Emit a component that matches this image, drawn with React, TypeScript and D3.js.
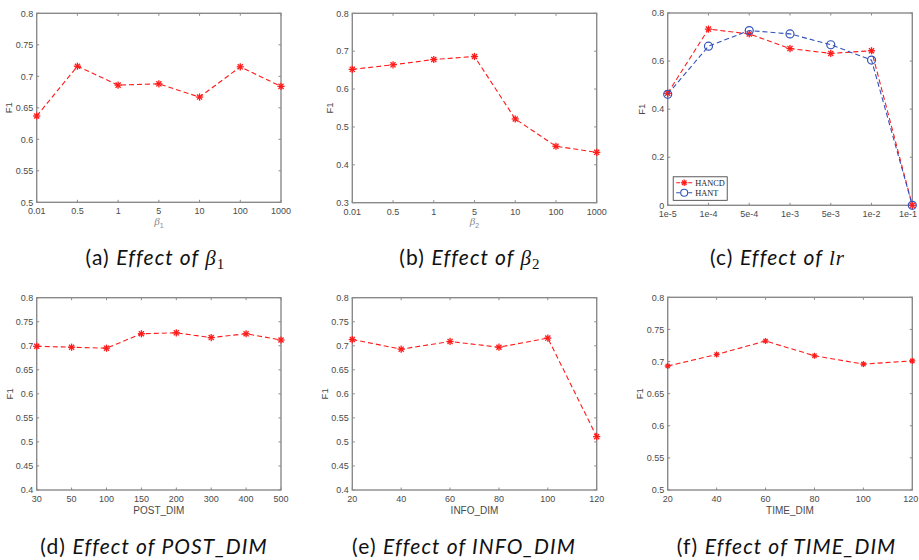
import React from 'react';
import * as d3 from 'd3';

// ---------- data ----------
const betaCats = ['0.01', '0.5', '1', '5', '10', '100', '1000'];
const beta1F1 = [0.637, 0.716, 0.686, 0.688, 0.667, 0.715, 0.684];
const beta2F1 = [0.652, 0.664, 0.678, 0.686, 0.521, 0.449, 0.433];
const lrCats = ['1e-5', '1e-4', '5e-4', '1e-3', '5e-3', '1e-2', '1e-1'];
const lrHANCD = [0.466, 0.733, 0.713, 0.652, 0.632, 0.643, 0.0];
const lrHANT = [0.462, 0.662, 0.727, 0.713, 0.668, 0.604, 0.0];
const postCats = ['30', '50', '100', '150', '200', '300', '400', '500'];
const postF1 = [0.699, 0.697, 0.695, 0.725, 0.727, 0.717, 0.725, 0.712];
const infoCats = ['20', '40', '60', '80', '100', '120'];
const infoF1 = [0.713, 0.693, 0.709, 0.697, 0.716, 0.511];
const timeCats = ['20', '40', '60', '80', '100', '120'];
const timeF1 = [0.693, 0.711, 0.732, 0.709, 0.696, 0.701];

const yTicksA = [0.5, 0.55, 0.6, 0.65, 0.7, 0.75, 0.8];
const yTicksB = [0.3, 0.4, 0.5, 0.6, 0.7, 0.8];
const yTicksC = [0, 0.2, 0.4, 0.6, 0.8];
const yTicksD = [0.4, 0.45, 0.5, 0.55, 0.6, 0.65, 0.7, 0.75, 0.8];
const yTicksF = [0.5, 0.55, 0.6, 0.65, 0.7, 0.75, 0.8];

const seriesNames = ['HANCD', 'HANT'];

// ---------- styles ----------
const RED = '#ff1a1a';
const BLUE = '#3352b8';
const AXIS = '#8a8a8a';
const TXT = '#4a4a4a';
const SANS = 'Liberation Sans, Arial, Helvetica, sans-serif';
const CAP = 'Lato, "Open Sans", sans-serif';
const SERIF = '"Liberation Serif", "DejaVu Serif", serif';
const W = 919;

type Series = { values: number[]; color: string; marker: 'star' | 'circle' };
type PanelProps = {
  x0: number; x1: number; y0: number; y1: number;
  cats: string[]; yDomain: [number, number]; yTicks: number[];
  series: Series[]; xLabel: React.ReactNode; xLabelY: number; yLabelX: number;
  legend?: boolean; starR?: number;
};

const fmt = d3.format('~g');

function Star({ x, y, r, color }: { x: number; y: number; r: number; color: string }) {
  const d = r * Math.SQRT1_2;
  return (
    <g stroke={color} strokeWidth={1.3}>
      <line x1={x - r} y1={y} x2={x + r} y2={y} />
      <line x1={x} y1={y - r} x2={x} y2={y + r} />
      <line x1={x - d} y1={y - d} x2={x + d} y2={y + d} />
      <line x1={x - d} y1={y + d} x2={x + d} y2={y - d} />
    </g>
  );
}

function Panel(p: PanelProps) {
  const xs = d3.scalePoint<string>().domain(p.cats).range([p.x0, p.x1]).padding(0);
  const ys = d3.scaleLinear().domain(p.yDomain).range([p.y1, p.y0]);
  const line = d3.line<number>().x((_, i) => xs(p.cats[i]) as number).y((v) => ys(v));
  const tl = 2.5;
  const starR = p.starR ?? 3.6;
  return (
    <g>
      {/* ticks */}
      <g stroke={AXIS} strokeWidth={1}>
        {p.cats.map((c) => {
          const x = xs(c) as number;
          return (
            <g key={'xt' + c}>
              <line x1={x} x2={x} y1={p.y1} y2={p.y1 - tl} />
              <line x1={x} x2={x} y1={p.y0} y2={p.y0 + tl} />
            </g>
          );
        })}
        {p.yTicks.map((t) => (
          <g key={'yt' + t}>
            <line x1={p.x0} x2={p.x0 + tl} y1={ys(t)} y2={ys(t)} />
            <line x1={p.x1} x2={p.x1 - tl} y1={ys(t)} y2={ys(t)} />
          </g>
        ))}
      </g>
      <rect x={p.x0} y={p.y0} width={p.x1 - p.x0} height={p.y1 - p.y0} fill="none" stroke={AXIS} strokeWidth={1.4} />
      {/* tick labels */}
      <g fontFamily={SANS} fontSize={9} fill={TXT}>
        {p.cats.map((c) => {
          const half = c.length * 2.6;
          const x = Math.min(xs(c) as number, W - half - 0.5);
          return (
            <text key={'xl' + c} x={x} y={p.y1 + 12} textAnchor="middle">{c}</text>
          );
        })}
        {p.yTicks.map((t) => (
          <text key={'yl' + t} x={p.x0 - 3.5} y={ys(t) + 3.2} textAnchor="end">{fmt(t)}</text>
        ))}
      </g>
      <text
        transform={`translate(${p.yLabelX},${(p.y0 + p.y1) / 2}) rotate(-90)`}
        textAnchor="middle" fontFamily={SANS} fontSize={9.5} fill={TXT}
      >F1</text>
      <text x={(p.x0 + p.x1) / 2} y={p.xLabelY} textAnchor="middle" fontFamily={SANS} fontSize={10} fill={TXT}>
        {p.xLabel}
      </text>
      {/* series */}
      {p.series.map((s, si) => (
        <g key={'s' + si}>
          <path d={line(s.values) || ''} fill="none" stroke={s.color} strokeWidth={1.1} strokeDasharray="5,3" />
          {s.values.map((v, i) => {
            const x = xs(p.cats[i]) as number;
            const y = ys(v);
            return s.marker === 'star' ? (
              <Star key={i} x={x} y={y} r={starR} color={s.color} />
            ) : (
              <circle key={i} cx={x} cy={y} r={4} fill="none" stroke={s.color} strokeWidth={1.2} />
            );
          })}
        </g>
      ))}
      {p.legend && (
        <g>
          <rect x={p.x0 + 5.5} y={p.y1 - 28.5} width={54} height={23.5} fill="#fff" stroke="#333" strokeWidth={0.8} />
          {p.series.map((s, i) => {
            const ly = p.y1 - 22.5 + i * 10;
            const lx0 = p.x0 + 8.5;
            return (
              <g key={'lg' + i}>
                <line x1={lx0} x2={lx0 + 16} y1={ly} y2={ly} stroke={s.color} strokeWidth={1.1} strokeDasharray="4,2" />
                {s.marker === 'star' ? (
                  <Star x={lx0 + 8} y={ly} r={3.2} color={s.color} />
                ) : (
                  <circle cx={lx0 + 8} cy={ly} r={3.5} fill="#fff" stroke={s.color} strokeWidth={1.1} />
                )}
                <text x={lx0 + 19} y={ly + 3} fontFamily={SERIF} fontSize={8.3} fill="#222">{seriesNames[i]}</text>
              </g>
            );
          })}
        </g>
      )}
    </g>
  );
}

function BetaLabel({ sub }: { sub: string }) {
  return (
    <tspan>
      <tspan fontFamily={SERIF} fontStyle="italic" fontSize={11} fill="#888">β</tspan>
      <tspan fontSize={7} dy={2.5} fill="#888">{sub}</tspan>
    </tspan>
  );
}

function Caption({ cx, y, letter, children }: { cx: number; y: number; letter: string; children: React.ReactNode }) {
  return (
    <text x={cx} y={y} textAnchor="middle" fontFamily={CAP} fontSize={21} letterSpacing={1.1} fill="#111">
      <tspan>({letter}) </tspan>
      <tspan fontStyle="italic">Effect of </tspan>
      {children}
    </text>
  );
}

export default function App() {
  return (
    <svg width={919} height={560} style={{ position: 'absolute', left: 0, top: 0, background: '#fff' }}>
      <rect width={919} height={560} fill="#fff" />
      <Panel x0={36.7} x1={281} y0={13.3} y1={202.3} cats={betaCats} yDomain={[0.5, 0.8]} yTicks={yTicksA}
        series={[{ values: beta1F1, color: RED, marker: 'star' }]} xLabel={<BetaLabel sub="1" />} xLabelY={225} yLabelX={12} />
      <Panel x0={352.3} x1={596.7} y0={13.3} y1={202.7} cats={betaCats} yDomain={[0.3, 0.8]} yTicks={yTicksB}
        series={[{ values: beta2F1, color: RED, marker: 'star' }]} xLabel={<BetaLabel sub="2" />} xLabelY={225} yLabelX={333} />
      <Panel x0={667.7} x1={912.3} y0={13} y1={205.3} cats={lrCats} yDomain={[0, 0.8]} yTicks={yTicksC}
        series={[{ values: lrHANCD, color: RED, marker: 'star' }, { values: lrHANT, color: BLUE, marker: 'circle' }]}
        xLabel="" xLabelY={228} yLabelX={645} legend />
      <Panel x0={36.7} x1={281} y0={297.7} y1={490} cats={postCats} yDomain={[0.4, 0.8]} yTicks={yTicksD}
        series={[{ values: postF1, color: RED, marker: 'star' }]} xLabel="POST_DIM" xLabelY={514} yLabelX={13} />
      <Panel x0={352.3} x1={596.7} y0={297.7} y1={490} cats={infoCats} yDomain={[0.4, 0.8]} yTicks={yTicksD}
        series={[{ values: infoF1, color: RED, marker: 'star' }]} xLabel="INFO_DIM" xLabelY={514} yLabelX={328} />
      <Panel x0={667.7} x1={912.3} y0={297.3} y1={490} cats={timeCats} yDomain={[0.5, 0.8]} yTicks={yTicksF}
        series={[{ values: timeF1, color: RED, marker: 'star' }]} xLabel="TIME_DIM" xLabelY={514} yLabelX={643} starR={3} />

      <Caption cx={155.5} y={265} letter="a">
        <tspan fontFamily={SERIF} fontStyle="italic">β</tspan>
        <tspan fontFamily={SERIF} fontSize={15} dy={4}>1</tspan>
      </Caption>
      <Caption cx={470} y={265} letter="b">
        <tspan fontFamily={SERIF} fontStyle="italic">β</tspan>
        <tspan fontFamily={SERIF} fontSize={15} dy={4}>2</tspan>
      </Caption>
      <Caption cx={777.5} y={265} letter="c">
        <tspan fontFamily={SERIF} fontStyle="italic">lr</tspan>
      </Caption>
      <Caption cx={154} y={554} letter="d">
        <tspan fontStyle="italic">POST_DIM</tspan>
      </Caption>
      <Caption cx={464} y={554} letter="e">
        <tspan fontStyle="italic">INFO_DIM</tspan>
      </Caption>
      <Caption cx={786.5} y={554} letter="f">
        <tspan fontStyle="italic">TIME_DIM</tspan>
      </Caption>
    </svg>
  );
}
